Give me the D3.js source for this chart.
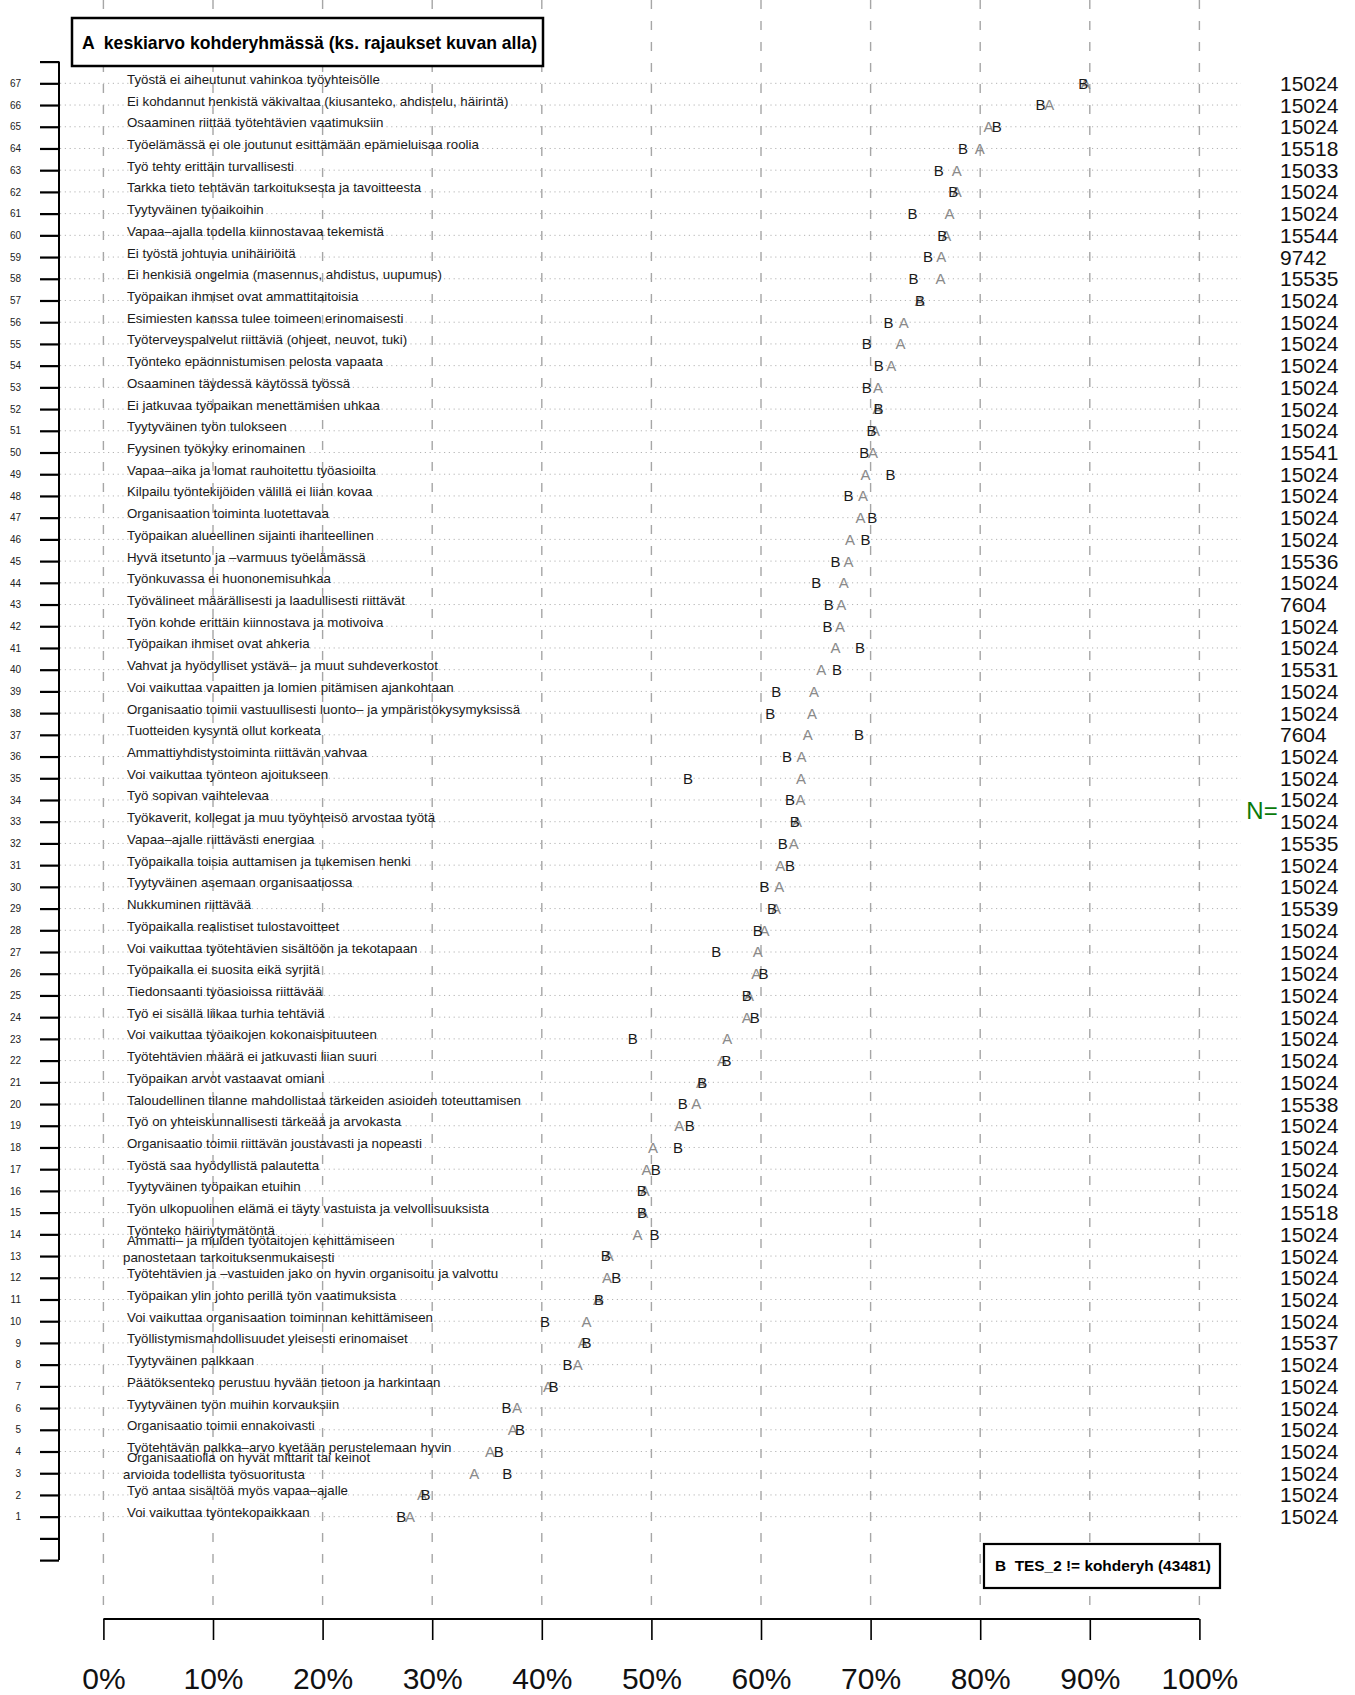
<!DOCTYPE html>
<html>
<head>
<meta charset="utf-8">
<script src="https://cdn.jsdelivr.net/npm/d3@7"></script>
<style>
  body { margin: 0; background: #fff; }
  svg { display: block; }
  text { font-family: "Liberation Sans", Arial, Helvetica, sans-serif; white-space: pre; }
</style>
</head>
<body>
<svg id="chart" width="1355" height="1695"></svg>
<script>
// Items listed from the top row (67) down to the bottom row (1)
const itemLabels = [
  "Työstä ei aiheutunut vahinkoa työyhteisölle",
  "Ei kohdannut henkistä väkivaltaa (kiusanteko, ahdistelu, häirintä)",
  "Osaaminen riittää työtehtävien vaatimuksiin",
  "Työelämässä ei ole joutunut esittämään epämieluisaa roolia",
  "Työ tehty erittäin turvallisesti",
  "Tarkka tieto tehtävän tarkoituksesta ja tavoitteesta",
  "Tyytyväinen työaikoihin",
  "Vapaa–ajalla todella kiinnostavaa tekemistä",
  "Ei työstä johtuvia unihäiriöitä",
  "Ei henkisiä ongelmia (masennus, ahdistus, uupumus)",
  "Työpaikan ihmiset ovat ammattitaitoisia",
  "Esimiesten kanssa tulee toimeen erinomaisesti",
  "Työterveyspalvelut riittäviä (ohjeet, neuvot, tuki)",
  "Työnteko epäonnistumisen pelosta vapaata",
  "Osaaminen täydessä käytössä työssä",
  "Ei jatkuvaa työpaikan menettämisen uhkaa",
  "Tyytyväinen työn tulokseen",
  "Fyysinen työkyky erinomainen",
  "Vapaa–aika ja lomat rauhoitettu työasioilta",
  "Kilpailu työntekijöiden välillä ei liian kovaa",
  "Organisaation toiminta luotettavaa",
  "Työpaikan alueellinen sijainti ihanteellinen",
  "Hyvä itsetunto ja –varmuus työelämässä",
  "Työnkuvassa ei huononemisuhkaa",
  "Työvälineet määrällisesti ja laadullisesti riittävät",
  "Työn kohde erittäin kiinnostava ja motivoiva",
  "Työpaikan ihmiset ovat ahkeria",
  "Vahvat ja hyödylliset ystävä– ja muut suhdeverkostot",
  "Voi vaikuttaa vapaitten ja lomien pitämisen ajankohtaan",
  "Organisaatio toimii vastuullisesti luonto– ja ympäristökysymyksissä",
  "Tuotteiden kysyntä ollut korkeata",
  "Ammattiyhdistystoiminta riittävän vahvaa",
  "Voi vaikuttaa työnteon ajoitukseen",
  "Työ sopivan vaihtelevaa",
  "Työkaverit, kollegat ja muu työyhteisö arvostaa työtä",
  "Vapaa–ajalle riittävästi energiaa",
  "Työpaikalla toisia auttamisen ja tukemisen henki",
  "Tyytyväinen asemaan organisaatiossa",
  "Nukkuminen riittävää",
  "Työpaikalla realistiset tulostavoitteet",
  "Voi vaikuttaa työtehtävien sisältöön ja tekotapaan",
  "Työpaikalla ei suosita eikä syrjitä",
  "Tiedonsaanti työasioissa riittävää",
  "Työ ei sisällä liikaa turhia tehtäviä",
  "Voi vaikuttaa työaikojen kokonaispituuteen",
  "Työtehtävien määrä ei jatkuvasti liian suuri",
  "Työpaikan arvot vastaavat omiani",
  "Taloudellinen tilanne mahdollistaa tärkeiden asioiden toteuttamisen",
  "Työ on yhteiskunnallisesti tärkeää ja arvokasta",
  "Organisaatio toimii riittävän joustavasti ja nopeasti",
  "Työstä saa hyödyllistä palautetta",
  "Tyytyväinen työpaikan etuihin",
  "Työn ulkopuolinen elämä ei täyty vastuista ja velvollisuuksista",
  "Työnteko häiriytymätöntä",
  "Ammatti– ja muiden työtaitojen kehittämiseen\npanostetaan tarkoituksenmukaisesti",
  "Työtehtävien ja –vastuiden jako on hyvin organisoitu ja valvottu",
  "Työpaikan ylin johto perillä työn vaatimuksista",
  "Voi vaikuttaa organisaation toiminnan kehittämiseen",
  "Työllistymismahdollisuudet yleisesti erinomaiset",
  "Tyytyväinen palkkaan",
  "Päätöksenteko perustuu hyvään tietoon ja harkintaan",
  "Tyytyväinen työn muihin korvauksiin",
  "Organisaatio toimii ennakoivasti",
  "Työtehtävän palkka–arvo kyetään perustelemaan hyvin",
  "Organisaatiolla on hyvät mittarit tai keinot\narvioida todellista työsuoritusta",
  "Työ antaa sisältöä myös vapaa–ajalle",
  "Voi vaikuttaa työntekopaikkaan"
];

// Mean of the target group (A)
const meanA = [
  0.896, 0.863, 0.8076, 0.7996, 0.7785, 0.7785, 0.772, 0.769, 0.7645, 0.7637,
  0.7448, 0.7303, 0.7273, 0.7189, 0.7067, 0.7063, 0.704, 0.7023, 0.6953, 0.6931,
  0.6909, 0.6812, 0.6799, 0.6755, 0.6733, 0.672, 0.668, 0.655, 0.6483, 0.6465,
  0.6426, 0.637, 0.6365, 0.636, 0.6329, 0.6299, 0.6176, 0.6167, 0.6137, 0.6031,
  0.597, 0.5957, 0.589, 0.5869, 0.5693, 0.5645, 0.5453, 0.5409, 0.5255, 0.5014,
  0.4955, 0.494, 0.4925, 0.4873, 0.4612, 0.4596, 0.4512, 0.4407, 0.4373, 0.4328,
  0.4057, 0.3773, 0.3735, 0.3528, 0.3384, 0.2906, 0.2797
];

// Mean of the comparison group (B: TES_2 != kohderyh)
const meanB = [
  0.894, 0.855, 0.815, 0.7843, 0.7623, 0.7755, 0.7382, 0.7654, 0.7523, 0.7391,
  0.745, 0.7163, 0.6966, 0.7075, 0.6966, 0.7072, 0.7009, 0.6943, 0.7181, 0.6799,
  0.7014, 0.6953, 0.668, 0.6505, 0.6619, 0.6606, 0.6904, 0.6693, 0.614, 0.6084,
  0.6895, 0.6237, 0.5334, 0.6264, 0.6307, 0.6198, 0.6264, 0.6031, 0.6101, 0.597,
  0.5592, 0.6023, 0.5869, 0.5943, 0.483, 0.5685, 0.5465, 0.5286, 0.5351, 0.5242,
  0.504, 0.4913, 0.4915, 0.5029, 0.4584, 0.4679, 0.4522, 0.4029, 0.4407, 0.4235,
  0.4107, 0.3679, 0.3801, 0.3607, 0.3684, 0.294, 0.2717
];

// Respondent counts per item
const nCounts = [
  15024, 15024, 15024, 15518, 15033, 15024, 15024, 15544, 9742, 15535,
  15024, 15024, 15024, 15024, 15024, 15024, 15024, 15541, 15024, 15024,
  15024, 15024, 15536, 15024, 7604, 15024, 15024, 15531, 15024, 15024,
  7604, 15024, 15024, 15024, 15024, 15535, 15024, 15024, 15539, 15024,
  15024, 15024, 15024, 15024, 15024, 15024, 15024, 15538, 15024, 15024,
  15024, 15024, 15518, 15024, 15024, 15024, 15024, 15024, 15537, 15024,
  15024, 15024, 15024, 15024, 15024, 15024, 15024
];

const xTicks = [0, 0.1, 0.2, 0.3, 0.4, 0.5, 0.6, 0.7, 0.8, 0.9, 1.0];
const xTickLabels = ["0%", "10%", "20%", "30%", "40%", "50%", "60%", "70%", "80%", "90%", "100%"];

const titleA = "A  keskiarvo kohderyhmässä (ks. rajaukset kuvan alla)";
const legendB = "B  TES_2 != kohderyh (43481)";

const nRows = itemLabels.length;
const rows = itemLabels.map((label, i) => ({
  row: nRows - i,
  label,
  a: meanA[i],
  b: meanB[i],
  n: nCounts[i]
}));

const svg = d3.select("#chart");

const x = d3.scaleLinear().domain([0, 1]).range([103.4, 1199.4]);
const y = d3.scaleLinear().domain([-1, 68]).range([1560.1, 61.6]);

// vertical dashed reference lines
svg.append("g")
  .selectAll("line")
  .data(xTicks)
  .join("line")
  .attr("x1", d => x(d)).attr("x2", d => x(d))
  .attr("y1", 0).attr("y2", 1612)
  .attr("stroke", "#a6a6a6")
  .attr("stroke-width", 1.4)
  .attr("stroke-dasharray", "9,12");

// dotted row guides
svg.append("g")
  .selectAll("line")
  .data(rows)
  .join("line")
  .attr("x1", 60).attr("x2", 1241)
  .attr("y1", d => y(d.row)).attr("y2", d => y(d.row))
  .attr("stroke", "#b4b4b4")
  .attr("stroke-width", 1)
  .attr("stroke-dasharray", "1.2,3.6");

// left axis with row numbers
const yAxis = d3.axisLeft(y)
  .tickValues(d3.range(-1, 69))
  .tickSize(19)
  .tickPadding(20)
  .tickFormat(d => (d >= 1 && d <= nRows) ? String(d) : "");
const yAxisG = svg.append("g")
  .attr("transform", "translate(59,0)")
  .call(yAxis);
yAxisG.select(".domain")
  .attr("d", `M0,${y(68)}V${y(-1)}`)
  .attr("stroke", "#000").attr("stroke-width", 2);
yAxisG.selectAll(".tick line").attr("stroke", "#000").attr("stroke-width", 2.2);
yAxisG.selectAll(".tick text")
  .attr("x", -38)
  .attr("font-size", 10)
  .attr("font-family", "'Liberation Sans', Arial, sans-serif")
  .attr("fill", "#222");

// item labels
const labelG = svg.append("g");
rows.forEach(d => {
  const lines = d.label.split("\n");
  const t = labelG.append("text")
    .attr("font-size", 13.3)
    .attr("fill", "#1a1a1a");
  if (lines.length === 1) {
    t.attr("x", 127).attr("y", y(d.row) + 0.5).text(lines[0]);
  } else {
    t.append("tspan").attr("x", 127).attr("y", y(d.row) - 11).text(lines[0]);
    t.append("tspan").attr("x", 123).attr("y", y(d.row) + 5.6).text(lines[1]);
  }
});

// group A letters
svg.append("g")
  .selectAll("text")
  .data(rows)
  .join("text")
  .attr("x", d => x(d.a))
  .attr("y", d => y(d.row) + 5.4)
  .attr("text-anchor", "middle")
  .attr("font-size", 15)
  .attr("fill", "#8a8a8a")
  .text("A");

// group B letters
svg.append("g")
  .selectAll("text")
  .data(rows)
  .join("text")
  .attr("x", d => x(d.b))
  .attr("y", d => y(d.row) + 5.4)
  .attr("text-anchor", "middle")
  .attr("font-size", 15)
  .attr("fill", "#1a1a1a")
  .text("B");

// N counts on the right
svg.append("g")
  .selectAll("text")
  .data(rows)
  .join("text")
  .attr("x", 1280)
  .attr("y", d => y(d.row) + 7.5)
  .attr("font-size", 21)
  .attr("fill", "#111")
  .text(d => d.n);

svg.append("text")
  .attr("x", 1262)
  .attr("y", y(33.5) + 8.5)
  .attr("text-anchor", "middle")
  .attr("font-size", 24)
  .attr("fill", "#0a7a0a")
  .text("N=");

// bottom percentage axis
const xAxis = d3.axisBottom(x)
  .tickValues(xTicks)
  .tickSize(21)
  .tickPadding(30)
  .tickFormat((d, i) => xTickLabels[i]);
const xAxisG = svg.append("g")
  .attr("transform", "translate(0,1619)")
  .call(xAxis);
xAxisG.select(".domain")
  .attr("d", `M${x(0)},0H${x(1)}`)
  .attr("stroke", "#000").attr("stroke-width", 2.2);
xAxisG.selectAll(".tick line").attr("stroke", "#000").attr("stroke-width", 1.6);
xAxisG.selectAll(".tick text")
  .attr("font-size", 30)
  .attr("font-family", "'Liberation Sans', Arial, sans-serif")
  .attr("fill", "#111")
  .attr("dy", null)
  .attr("y", 70);

// title box for group A
svg.append("rect")
  .attr("x", 72).attr("y", 18)
  .attr("width", 471).attr("height", 48)
  .attr("fill", "#fff")
  .attr("stroke", "#000").attr("stroke-width", 2.5);
svg.append("text")
  .attr("x", 82).attr("y", 49)
  .attr("font-size", 18.5)
  .attr("font-weight", "bold")
  .attr("textLength", 455)
  .attr("lengthAdjust", "spacingAndGlyphs")
  .attr("fill", "#000")
  .text(titleA);

// legend box for group B
svg.append("rect")
  .attr("x", 984).attr("y", 1544)
  .attr("width", 236).attr("height", 44)
  .attr("fill", "#fff")
  .attr("stroke", "#000").attr("stroke-width", 2.2);
svg.append("text")
  .attr("x", 995).attr("y", 1571)
  .attr("font-size", 14.5)
  .attr("font-weight", "bold")
  .attr("textLength", 216)
  .attr("lengthAdjust", "spacingAndGlyphs")
  .attr("fill", "#000")
  .text(legendB);
</script>
</body>
</html>
